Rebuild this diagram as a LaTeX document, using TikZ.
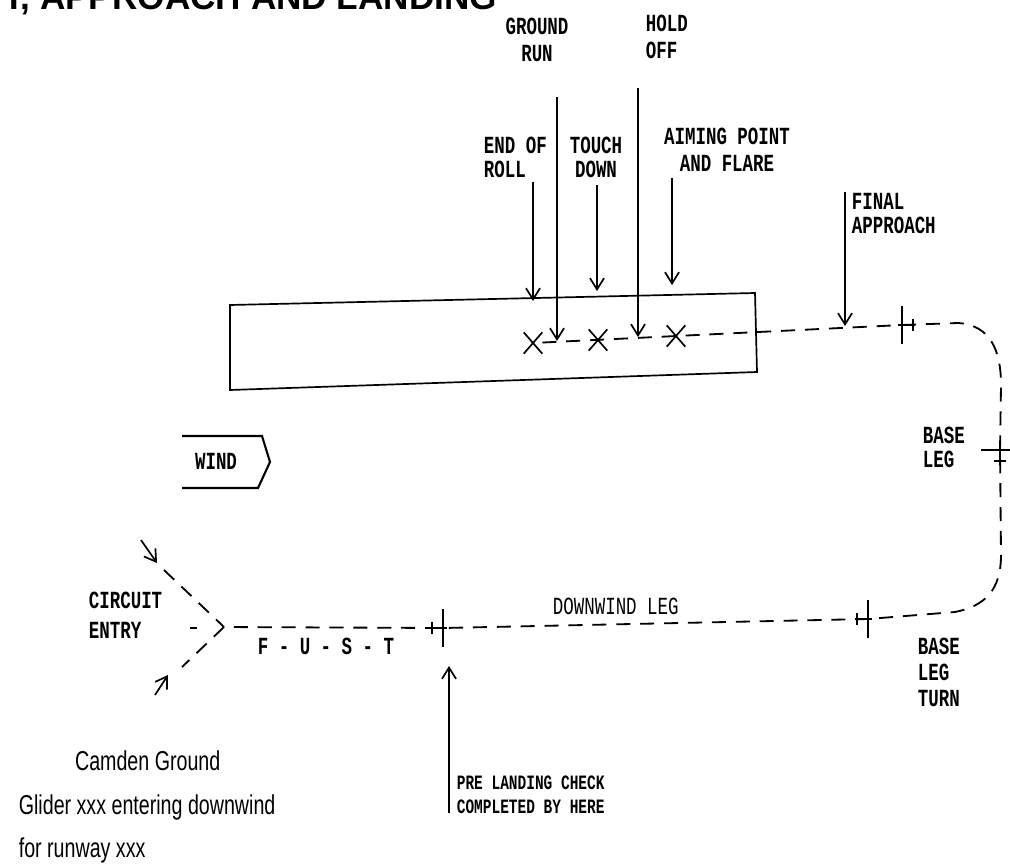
\documentclass[tikz,border=0pt]{standalone}
\usepackage{fontspec}
\setmainfont{Liberation Sans}
\newfontfamily\typed[FakeStretch=0.71]{Liberation Mono}
\newfontfamily\narrow[FakeStretch=0.72]{Liberation Sans}
\usetikzlibrary{arrows.meta,shapes.misc}

% glider symbol: wing bar, fuselage, tail bar (tail on local +x)
\newcommand{\glider}[3]{\coordinate (#1) at #2;
\begin{scope}[shift={#2},rotate=#3]\draw[line width=2pt] (0,-19)--(0,19); \draw[line width=1.5pt] (-4,0)--(13,0); \draw[line width=1.6pt] (11,-6)--(11,6);\end{scope}}

\begin{document}
\begin{tikzpicture}[x=0.025cm,y=-0.025cm,line width=1.2pt,>={Straight Barb[length=8pt,width=10pt]},
lbl/.style={font=\typed\bfseries\fontsize{17.5}{17.5}\selectfont,inner sep=0,align=left},
small/.style={font=\typed\bfseries\fontsize{14.5}{17}\selectfont,inner sep=0,align=left},
trk/.style={dash pattern=on 10pt off 7pt,line width=1.3pt},
xmk/.style={draw,cross out,minimum width=12pt,minimum height=14pt,inner sep=0,line width=1.2pt}]
\useasboundingbox (0,0) rectangle (1010,866); \clip (0,0) rectangle (1010,866);
\node[font=\bfseries\fontsize{25}{25}\selectfont,anchor=base east,inner sep=0] (title) at (498,10) {T, APPROACH AND LANDING};
% runway
\draw (230,305) -- (755,293) -- (757,372) -- (230,390) -- cycle;
\node[xmk] (x1) at (533,343) {}; \node[xmk] (x2) at (598,340) {}; \node[xmk] (x3) at (676,336) {};
% labels
\node[lbl,align=center,anchor=north] (run) at (537,17) {GROUND\\[2pt]RUN}; \node[lbl,anchor=north west] (hold) at (645,14) {HOLD\\[2pt]OFF};
\node[lbl,anchor=north west] (roll) at (483,136) {END OF\\ROLL}; \node[lbl,align=center,anchor=north] (touch) at (596,136) {TOUCH\\DOWN};
\node[lbl,align=center,anchor=north] (aim) at (727,127) {AIMING POINT\\[2pt]AND FLARE}; \node[lbl,anchor=north west] (final) at (851,192) {FINAL\\APPROACH};
\node[lbl,anchor=north west] (base) at (922,426) {BASE\\LEG}; \node[lbl,anchor=north west] (turn) at (917,637) {BASE\\[1pt]LEG\\[1pt]TURN};
\node[lbl,font=\typed\fontsize{17.5}{17.5}\selectfont,anchor=north west] (down) at (552,597) {DOWNWIND LEG};
\node[lbl,anchor=north west] (entry) at (88,591) {CIRCUIT\\[4pt]ENTRY}; \node[lbl,anchor=north west] (fust) at (257,637) {F - U - S - T};
\node[small,anchor=north west] (check) at (456,775) {PRE LANDING CHECK\\COMPLETED BY HERE};
\node[font=\narrow\fontsize{19.4}{31}\selectfont,inner sep=0,align=left,anchor=north west] (call) at (18,750) {\hspace*{40pt}Camden Ground\\Glider xxx entering downwind\\for runway xxx};
% wind
\draw[line width=1.5pt] (182,436) -- (262,436) -- (270,462) -- (258,488) -- (182,488); \node[lbl] (wind) at (216,461) {WIND};
% gliders round the circuit
\glider{g1}{(902,325)}{0} \glider{g2}{(1000,450)}{-90} \glider{g3}{(868,619)}{180} \glider{pl}{(443,628)}{180}
\coordinate (t1) at (958,323); \coordinate (t2) at (1001,385); \coordinate (t3) at (1001,555); \coordinate (t4) at (955,612); \coordinate (mrg) at (224,627);
\draw[trk] (x1) -- (g1); \draw[trk] (g1) -- (t1) .. controls (990,325) and (1001,350) .. (t2) -- (g2) -- (t3) .. controls (1001,590) and (985,606) .. (t4) -- (g3) -- (pl) -- (mrg);
\coordinate (e1) at (164,570); \coordinate (e2) at (182,667); \draw[trk] (e1) -- (mrg); \draw[trk] (mrg) -- (e2); \draw (190,628) -- (197,628);
\coordinate (a1) at (141,540); \coordinate (a1e) at (157,563); \coordinate (a2) at (155,695); \coordinate (a2e) at (168,675);
\draw[->] (a1) -- (a1e); \draw[->] (a2) -- (a2e);
% pointer arrows
\coordinate (runA) at (557,97); \coordinate (runB) at (557,341); \coordinate (holdA) at (638,88); \coordinate (holdB) at (638,337);
\coordinate (rollA) at (533,182); \coordinate (rollB) at (533,301); \coordinate (touchA) at (597,185); \coordinate (touchB) at (597,291);
\coordinate (aimA) at (672,178); \coordinate (aimB) at (672,285); \coordinate (finA) at (845,192); \coordinate (finB) at (845,326);
\coordinate (chkA) at (449,813); \coordinate (chkB) at (449,666);
\draw[->] (runA) -- (runB); \draw[->] (holdA) -- (holdB); \draw[->] (rollA) -- (rollB); \draw[->] (touchA) -- (touchB);
\draw[->] (aimA) -- (aimB); \draw[->] (finA) -- (finB); \draw[->] (chkA) -- (chkB);
\end{tikzpicture}
\end{document}
